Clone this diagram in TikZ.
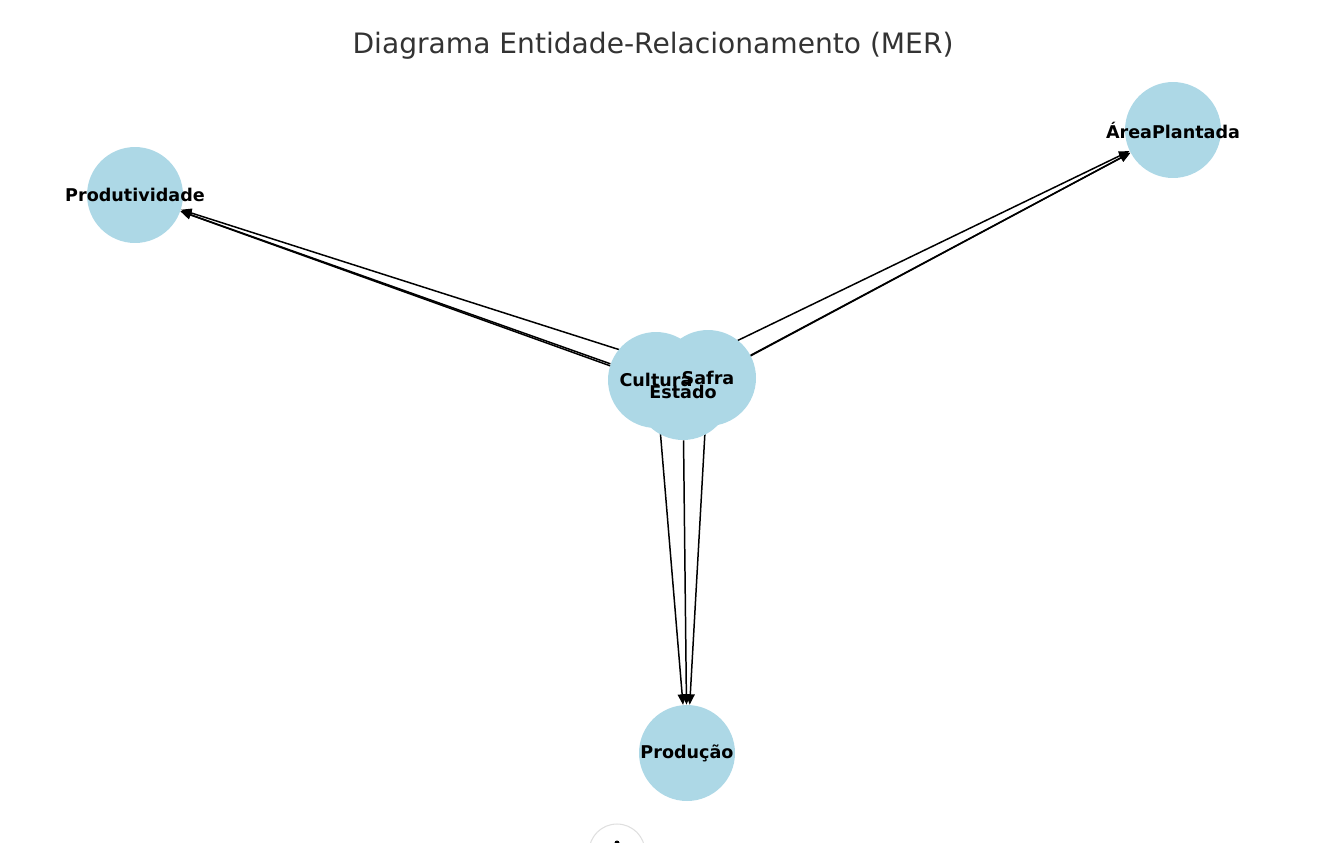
\documentclass[tikz,border=0pt]{standalone}
\usepackage{fontspec}
\setmainfont{DejaVu Sans}
\usetikzlibrary{arrows.meta,backgrounds}
\definecolor{entityblue}{RGB}{173,216,230}
\definecolor{titlegray}{RGB}{51,51,51}
\tikzset{
  entity/.style={circle, fill=entityblue, minimum size=1.92cm, inner sep=0pt},
  elabel/.style={inner sep=0pt, font=\fontsize{10}{12}\selectfont\bfseries},
  rel/.style={-{Triangle[length=6pt,width=5pt]}, line width=0.85pt}
}
\begin{document}
\begin{tikzpicture}[x=0.02cm, y=-0.02cm]
    \useasboundingbox (0,0) rectangle (1317,842);

    % Title
    \node[text=titlegray, font=\fontsize{16}{19}\selectfont] (title) at (653,46) {Diagrama Entidade-Relacionamento (MER)};

    % Entities
    \node[entity] (produtividade) at (135,195) {};
    \node[entity] (area) at (1173,130) {};
    \node[entity] (producao) at (687,753) {};
    \node[entity] (cultura) at (656,380) {};
    \node[entity] (safra) at (708,378) {};
    \node[entity] (estado) at (683,392) {};

    % Labels
    \node[elabel] (lprodutividade) at (produtividade) {Produtividade};
    \node[elabel] (larea) at (area) {ÁreaPlantada};
    \node[elabel] (lproducao) at (producao) {Produção};
    \node[elabel] (lcultura) at (cultura) {Cultura};
    \node[elabel] (lsafra) at (safra) {Safra};
    \node[elabel] (lestado) at (estado) {Estado};

    % Relations
    \begin{scope}[on background layer]
      \foreach \src in {cultura,safra,estado}
        \foreach \dst in {produtividade,area,producao}
          \draw[rel] (\src) -- (\dst);
    \end{scope}

    % Button at the bottom edge
    \begin{scope}
      \clip (0,0) rectangle (1317,842);
      \draw[gray!25, line width=0.6pt] (617,852) circle (0.56cm);
      \fill (617,843) circle (0.05cm);
    \end{scope}
\end{tikzpicture}
\end{document}
